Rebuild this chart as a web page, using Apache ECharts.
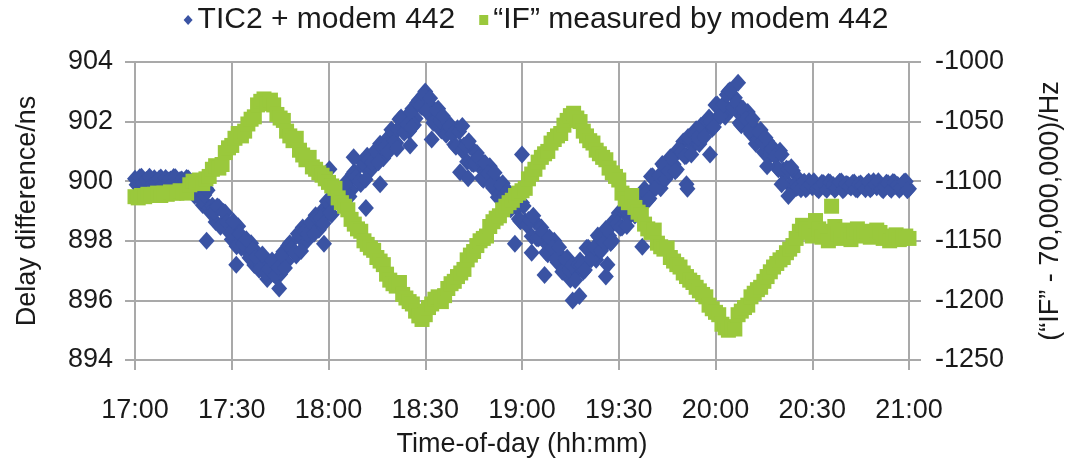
<!DOCTYPE html>
<html>
<head>
<meta charset="utf-8">
<script src="https://cdn.jsdelivr.net/npm/echarts@6.0.0/dist/echarts.min.js"></script>
<style>
  html, body { margin: 0; padding: 0; background: #fff; }
  #chart { width: 1072px; height: 468px; }
</style>
</head>
<body>
<div id="chart"></div>
<script>
// x = minutes after 17:00
const xTicks = ['17:00', '17:30', '18:00', '18:30', '19:00', '19:30', '20:00', '20:30', '21:00']

// TIC2 + modem 442, delay difference (ns), readings on the whole minute
const blueValues = [
  900.08, 899.88, 900.15, 899.95, 900.02, 899.85, 900.10, 899.92, 900.12, 899.98,
  899.86, 900.06, 900.14, 899.90, 900.04, 899.94, 900.11, 899.87, 899.90, 899.67,
  899.83, 899.20, 899.76, 899.13, 899.18, 898.63, 899.13, 898.56, 898.94, 898.46,
  898.04, 898.41, 898.49, 897.77, 897.99, 897.62, 897.92, 897.19, 897.58, 897.19,
  897.35, 896.72, 897.10, 896.89, 897.19, 896.88, 897.63, 897.30, 897.92, 897.69,
  897.51, 898.13, 898.45, 897.97, 898.44, 898.31, 898.86, 898.37, 899.00, 898.86,
  899.26, 898.88, 899.68, 899.29, 899.59, 899.28, 900.03, 899.70, 900.32, 900.09,
  899.91, 900.53, 900.85, 900.37, 900.84, 900.71, 901.26, 900.77, 901.40, 901.26,
  901.66, 901.28, 902.08, 901.69, 901.99, 901.68, 902.43, 902.10, 902.72, 902.49,
  903.01, 902.28, 902.50, 902.13, 902.43, 901.70, 902.08, 901.70, 901.85, 901.23,
  901.78, 901.15, 901.20, 900.65, 901.15, 900.58, 900.95, 900.48, 900.05, 900.43,
  900.50, 899.78, 900.00, 899.63, 899.93, 899.20, 899.58, 899.20, 899.35, 898.73,
  899.28, 898.65, 898.70, 898.15, 898.65, 898.08, 898.45, 897.98, 897.55, 897.93,
  898.00, 897.28, 897.50, 897.13, 897.43, 896.70, 897.08, 896.94, 897.34, 896.96,
  897.76, 897.37, 897.67, 897.36, 898.11, 897.78, 898.40, 898.17, 897.99, 898.61,
  898.93, 898.45, 898.92, 898.79, 899.34, 898.85, 899.48, 899.34, 899.74, 899.36,
  900.16, 899.77, 900.07, 899.76, 900.51, 900.18, 900.80, 900.57, 900.39, 901.01,
  901.33, 900.85, 901.32, 901.19, 901.74, 901.25, 901.88, 901.74, 902.14, 901.76,
  902.56, 902.17, 902.47, 902.16, 903.01, 902.43, 902.80, 902.32, 901.88, 902.25,
  902.32, 901.59, 901.80, 901.42, 901.72, 900.97, 901.35, 900.96, 901.10, 900.47,
  901.02, 900.37, 900.42, 899.86, 900.35, 899.77, 900.05, 899.93, 899.73, 900.00,
  899.80, 899.87, 899.70, 899.95, 899.77, 899.97, 899.83, 899.71, 899.91, 899.99,
  899.75, 899.89, 899.79, 899.96, 899.72, 899.92, 899.82, 899.93, 899.73, 900.00,
  899.80, 899.87, 899.70, 899.95, 899.77, 899.97, 899.83, 899.71, 899.91, 899.99,
  899.75
]

// TIC2 + modem 442 readings on the half minute (17:00:30, 17:01:30, ...)
const blueHalfValues = [
  899.88, 900.13, 899.93, 900.04, 900.15, 899.90, 899.96, 900.08, 899.86, 900.11,
  900.02, 899.92, 900.13, 899.85, 900.06, 899.98, 900.09, 899.83, 899.51, 899.89,
  899.39, 899.54, 899.70, 898.94, 898.97, 899.15, 898.47, 898.97, 898.62, 898.25,
  898.65, 897.82, 898.23, 897.90, 898.05, 897.43, 897.70, 897.46, 897.03, 897.54,
  896.91, 897.06, 897.34, 896.83, 897.10, 897.52, 897.09, 897.83, 897.73, 897.60,
  898.24, 897.66, 898.31, 898.23, 898.62, 898.24, 898.76, 898.76, 898.58, 899.33,
  898.94, 899.34, 899.74, 899.23, 899.50, 899.92, 899.49, 900.23, 900.13, 900.00,
  900.64, 900.06, 900.71, 900.63, 901.02, 900.64, 901.16, 901.16, 900.98, 901.73,
  901.34, 901.74, 902.14, 901.63, 901.90, 902.32, 901.89, 902.63, 902.53, 902.90,
  902.39, 902.78, 901.96, 902.36, 902.04, 902.18, 901.56, 901.83, 901.59, 901.16,
  901.67, 901.03, 901.19, 901.34, 900.59, 900.61, 900.79, 900.11, 900.61, 900.26,
  899.89, 900.28, 899.46, 899.86, 899.54, 899.68, 899.06, 899.33, 899.09, 898.66,
  899.17, 898.53, 898.69, 898.84, 898.09, 898.11, 898.29, 897.61, 898.11, 897.76,
  897.39, 897.78, 896.96, 897.36, 897.04, 897.18, 896.68, 897.20, 897.20, 897.02,
  897.77, 897.38, 897.78, 898.18, 897.67, 897.94, 898.36, 897.93, 898.67, 898.57,
  898.44, 899.08, 898.50, 899.15, 899.07, 899.46, 899.08, 899.60, 899.60, 899.42,
  900.17, 899.78, 900.18, 900.58, 900.07, 900.34, 900.76, 900.33, 901.07, 900.97,
  900.84, 901.48, 900.90, 901.55, 901.47, 901.86, 901.48, 902.00, 902.00, 901.82,
  902.57, 902.18, 902.58, 902.90, 903.05, 902.47, 902.63, 901.95, 902.44, 902.08,
  901.70, 902.09, 901.26, 901.65, 901.32, 901.46, 900.82, 901.09, 900.84, 900.40,
  900.90, 900.26, 900.40, 900.47, 899.84, 899.80, 899.73, 899.98, 899.78, 899.89,
  900.00, 899.75, 899.81, 899.93, 899.71, 899.96, 899.87, 899.77, 899.98, 899.70,
  899.91, 899.83, 899.94, 899.74, 899.90, 899.85, 899.73, 899.98, 899.78, 899.89,
  900.00, 899.75, 899.81, 899.93, 899.71, 899.96, 899.87, 899.77, 899.98, 899.70
]

// stray TIC2 readings [minute, ns]
const blueStray = [
  [22.2, 898.0], [31.4, 897.2], [44.7, 896.4], [58.6, 897.9], [60.3, 900.4],
  [67.8, 900.8], [71.6, 899.1], [76, 899.9], [81.2, 901.1], [85.3, 901.2],
  [85.8, 901.8], [92, 901.4], [100.8, 900.3], [101.5, 901.85], [103.3, 900.1],
  [117.8, 897.9], [120, 900.9], [123, 897.6], [127, 896.85], [135.7, 896.0],
  [137.8, 896.15], [146, 896.8], [146.5, 897.2], [157.3, 897.8], [171, 899.9],
  [171.3, 899.75], [178.3, 900.9], [187, 903.3], [196, 900.5], [200.5, 899.9],
  [202.6, 899.5]
]

// "IF" measured by modem 442, minus 70,000,000 (Hz), one per minute
const greenValues = [
  -1113, -1114, -1112, -1113, -1111, -1112, -1111, -1110, -1112, -1110,
  -1111, -1109, -1110, -1110, -1108, -1109, -1110, -1103, -1100, -1101,
  -1099, -1102, -1098, -1096, -1090, -1087, -1089, -1086, -1076, -1072,
  -1070, -1064, -1060, -1062, -1058, -1052, -1048, -1046, -1036, -1033,
  -1031, -1035, -1032, -1036, -1044, -1047, -1049, -1058, -1062, -1066,
  -1064, -1074, -1078, -1082, -1080, -1088, -1090, -1093, -1095, -1098,
  -1101, -1104, -1106, -1114, -1118, -1121, -1124, -1132, -1136, -1140,
  -1142, -1150, -1153, -1156, -1158, -1164, -1167, -1170, -1178, -1183,
  -1186, -1188, -1185, -1195, -1198, -1201, -1203, -1209, -1213, -1216,
  -1212, -1206, -1203, -1199, -1197, -1201, -1196, -1190, -1186, -1184,
  -1180, -1177, -1174, -1166, -1162, -1159, -1154, -1150, -1148, -1146,
  -1138, -1134, -1131, -1129, -1124, -1121, -1118, -1116, -1112, -1110,
  -1108, -1106, -1098, -1094, -1090, -1084, -1080, -1077, -1075, -1068,
  -1065, -1062, -1060, -1053, -1049, -1045, -1043, -1047, -1050, -1058,
  -1062, -1066, -1068, -1074, -1077, -1080, -1082, -1089, -1093, -1096,
  -1099, -1110, -1115, -1118, -1112, -1122, -1126, -1128, -1136, -1140,
  -1143, -1141, -1152, -1155, -1157, -1156, -1164, -1167, -1170, -1172,
  -1177, -1180, -1183, -1185, -1189, -1192, -1195, -1197, -1204, -1207,
  -1210, -1212, -1220, -1223, -1225, -1222, -1224, -1212, -1209, -1206,
  -1204, -1197, -1194, -1191, -1189, -1184, -1180, -1176, -1172, -1169,
  -1166, -1164, -1160, -1157, -1154, -1148, -1142, -1137, -1140, -1143,
  -1146, -1133, -1140, -1147, -1142, -1150, -1121, -1138, -1144, -1148,
  -1141, -1145, -1149, -1143, -1140, -1146, -1144, -1142, -1147, -1145,
  -1141, -1143, -1148, -1146, -1150, -1147, -1145, -1149, -1148, -1146,
  -1148
]

const font = 'Liberation Sans'
const textColor = '#1a1a1a'
const gridColor = '#a9a9a9'
const blue = '#3a53a3'
const green = '#9ac83c'

var chartDom = document.getElementById('chart')
var myChart = echarts.init(chartDom)

const blueData = blueValues.map((v, i) => [i, v])
    .concat(blueHalfValues.map((v, i) => [i + 0.5, v]))
    .concat(blueStray)
const greenData = greenValues.map((v, i) => [i, v])

var option = {
    animation: false,
    textStyle: { fontFamily: font, color: textColor },
    legend: {
        top: 0,
        left: 'center',
        itemWidth: 9,
        itemHeight: 10,
        itemGap: 24,
        textStyle: { fontFamily: font, fontSize: 30, color: textColor },
        data: [
            { name: 'TIC2 + modem 442', icon: 'diamond' },
            { name: '\u201CIF\u201D measured by modem 442', icon: 'rect' }
        ]
    },
    grid: { left: 135, right: 159, top: 62, bottom: 108 },
    xAxis: {
        type: 'value',
        min: 0,
        max: 240,
        interval: 30,
        name: 'Time-of-day (hh:mm)',
        nameLocation: 'middle',
        nameGap: 71,
        nameTextStyle: { fontFamily: font, fontSize: 27, color: textColor },
        axisLine: { lineStyle: { color: gridColor, width: 2 } },
        axisTick: { show: true, length: 10, lineStyle: { color: gridColor, width: 2 } },
        splitLine: { show: true, lineStyle: { color: gridColor, width: 2 } },
        axisLabel: {
            margin: 37,
            fontFamily: font,
            fontSize: 27,
            color: textColor,
            formatter: v => xTicks[Math.round(v / 30)]
        }
    },
    yAxis: [
        {
            type: 'value',
            min: 894,
            max: 904,
            interval: 2,
            name: 'Delay difference/ns',
            nameLocation: 'middle',
            nameRotate: 90,
            nameGap: 94,
            nameTextStyle: { fontFamily: font, fontSize: 27, color: textColor },
            axisLine: { show: true, lineStyle: { color: gridColor, width: 2 } },
            axisTick: { show: true, length: 10, lineStyle: { color: gridColor, width: 2 } },
            splitLine: { show: true, lineStyle: { color: gridColor, width: 2 } },
            axisLabel: { margin: 22, fontFamily: font, fontSize: 27, color: textColor }
        },
        {
            type: 'value',
            min: -1250,
            max: -1000,
            interval: 50,
            position: 'right',
            name: '(\u201CIF\u201D - 70,000,000)/Hz',
            nameLocation: 'middle',
            nameRotate: 90,
            nameGap: 128,
            nameTextStyle: { fontFamily: font, fontSize: 27, color: textColor },
            axisLine: { show: true, lineStyle: { color: gridColor, width: 2 } },
            axisTick: { show: true, length: 12, lineStyle: { color: gridColor, width: 2 } },
            splitLine: { show: false },
            axisLabel: {
                margin: 26,
                fontFamily: font,
                fontSize: 27,
                color: textColor,
                formatter: v => String(v)
            }
        }
    ],
    series: [
        {
            name: 'TIC2 + modem 442',
            type: 'scatter',
            yAxisIndex: 0,
            symbol: 'diamond',
            symbolSize: [16, 18],
            itemStyle: { color: blue, opacity: 1 },
            data: blueData
        },
        {
            name: '\u201CIF\u201D measured by modem 442',
            type: 'scatter',
            yAxisIndex: 1,
            symbol: 'rect',
            symbolSize: 15,
            itemStyle: { color: green, opacity: 1 },
            data: greenData
        }
    ]
}

option && myChart.setOption(option)
</script>
</body>
</html>
